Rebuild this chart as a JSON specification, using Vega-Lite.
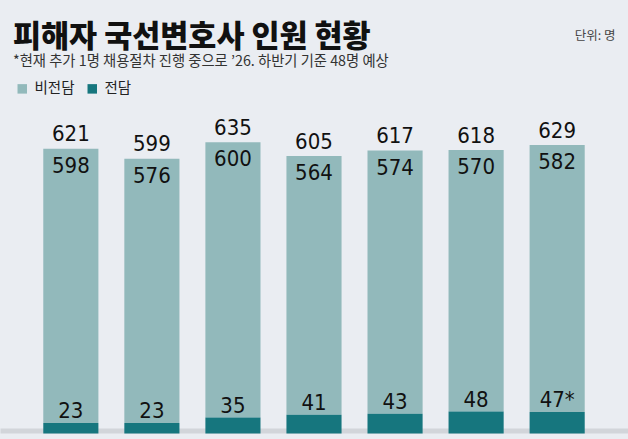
{
  "$schema": "https://vega.github.io/schema/vega-lite/v6.json",
  "width": 628,
  "height": 321,
  "autosize": {"type": "none"},
  "padding": {"top": 112.5, "left": 0, "right": 0, "bottom": 5.5},
  "background": "#eaedf2",
  "config": {
    "view": {"stroke": null},
    "font": "Noto Sans CJK KR"
  },
  "title": {
    "text": "피해자 국선변호사 인원 현황",
    "subtitle": "*현재 추가 1명 채용절차 진행 중으로 ’26. 하반기 기준 48명 예상",
    "anchor": "start",
    "frame": "group",
    "dx": 13,
    "offset": -40.5,
    "baseline": "top",
    "font": "Noto Sans CJK KR",
    "fontSize": 30.5,
    "fontWeight": 900,
    "color": "#111111",
    "subtitleFont": "Noto Sans CJK KR",
    "subtitleFontSize": 14.3,
    "subtitleColor": "#333333",
    "subtitlePadding": 2
  },
  "data": {
    "values": [
      {"구분": "1", "비전담": 598, "전담": 23, "합계": 621, "전담표시": "23"},
      {"구분": "2", "비전담": 576, "전담": 23, "합계": 599, "전담표시": "23"},
      {"구분": "3", "비전담": 600, "전담": 35, "합계": 635, "전담표시": "35"},
      {"구분": "4", "비전담": 564, "전담": 41, "합계": 605, "전담표시": "41"},
      {"구분": "5", "비전담": 574, "전담": 43, "합계": 617, "전담표시": "43"},
      {"구분": "6", "비전담": 570, "전담": 48, "합계": 618, "전담표시": "48"},
      {"구분": "7", "비전담": 582, "전담": 47, "합계": 629, "전담표시": "47*"}
    ]
  },
  "encoding": {
    "x": {
      "field": "구분",
      "type": "nominal",
      "sort": null,
      "scale": {"paddingInner": 0.32, "paddingOuter": 0.534},
      "axis": {
        "title": null,
        "labels": false,
        "ticks": false,
        "domainColor": "#d2d5da",
        "domainWidth": 5,
        "offset": -3
      }
    }
  },
  "layer": [
    {
      "transform": [{"fold": ["비전담", "전담"], "as": ["유형", "인원"]}],
      "mark": {"type": "bar"},
      "encoding": {
        "y": {
          "field": "인원",
          "type": "quantitative",
          "title": "단위: 명",
          "scale": {"domain": [0, 700]},
          "axis": {
            "labels": false,
            "ticks": false,
            "domain": false,
            "grid": false,
            "titleAngle": 0,
            "titleX": 615,
            "titleY": -77.5,
            "titleAlign": "right",
            "titleBaseline": "middle",
            "titleFontSize": 12.5,
            "titleFontWeight": "normal",
            "titleColor": "#444444"
          }
        },
        "color": {
          "field": "유형",
          "type": "nominal",
          "scale": {"domain": ["비전담", "전담"], "range": ["#92b9bb", "#16767e"]},
          "legend": {
            "orient": "none",
            "legendX": 15,
            "legendY": -31,
            "direction": "horizontal",
            "title": null,
            "symbolType": "square",
            "symbolSize": 90,
            "symbolStrokeWidth": 0,
            "symbolOpacity": 1,
            "labelFontSize": 14.5,
            "labelColor": "#222222",
            "labelOffset": 5,
            "columnPadding": 10
          }
        },
        "order": {"field": "유형", "sort": "descending"}
      }
    },
    {
      "mark": {"type": "text", "font": "Liberation Sans Narrow, DejaVu Sans Condensed, Roboto, sans-serif", "fontSize": 22, "baseline": "alphabetic", "dy": -7.5, "color": "#111111"},
      "encoding": {
        "y": {"field": "합계", "type": "quantitative", "title": "단위: 명"},
        "text": {"field": "합계", "type": "quantitative"}
      }
    },
    {
      "mark": {"type": "text", "font": "Liberation Sans Narrow, DejaVu Sans Condensed, Roboto, sans-serif", "fontSize": 22, "baseline": "alphabetic", "dy": 24, "color": "#111111"},
      "encoding": {
        "y": {"field": "합계", "type": "quantitative", "title": "단위: 명"},
        "text": {"field": "비전담", "type": "quantitative"}
      }
    },
    {
      "mark": {"type": "text", "font": "Liberation Sans Narrow, DejaVu Sans Condensed, Roboto, sans-serif", "fontSize": 22, "baseline": "alphabetic", "dy": -4.5, "color": "#111111"},
      "encoding": {
        "y": {"field": "전담", "type": "quantitative", "title": "단위: 명"},
        "text": {"field": "전담표시", "type": "nominal"}
      }
    }
  ]
}
